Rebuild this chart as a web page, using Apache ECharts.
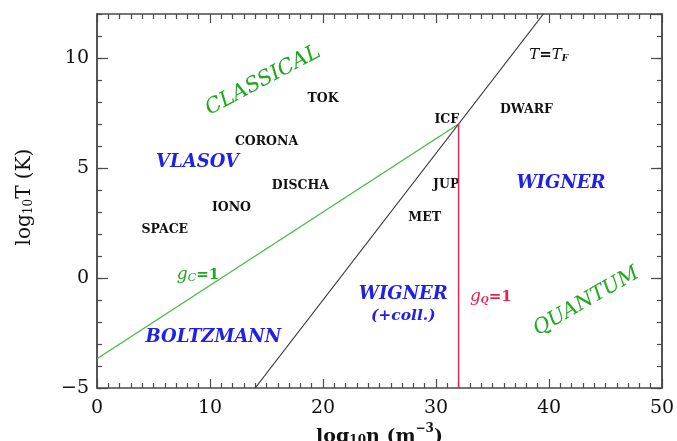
<!DOCTYPE html>
<html>
<head>
<meta charset="utf-8">
<script src="https://cdn.jsdelivr.net/npm/echarts@6/dist/echarts.min.js"></script>
<style>
  html, body { margin: 0; padding: 0; background: #fff; }
  #chart { width: 677px; height: 441px; }
</style>
</head>
<body>
<div id="chart"></div>
<script>
// Plasma regimes in the (density, temperature) plane
const nRange = [0, 50];
const tRange = [-5, 12];

// Boundary curves (log10 n, log10 T)
const gcN = [0, 32];      // classical coupling g_C = 1
const gcT = [-3.67, 7];
const tfN = [14, 39.5];   // T = T_F
const tfT = [-5, 12];
const gqN = [32, 32];     // quantum coupling g_Q = 1
const gqT = [-5, 7];

// Example plasmas
const plasmaNames = ['TOK', 'CORONA', 'DISCHA', 'IONO', 'SPACE', 'ICF', 'DWARF', 'JUP', 'MET'];
const plasmaN = [20.0, 15.0, 18.0, 11.9, 6.0, 30.95, 38.0, 30.9, 29.0];
const plasmaT = [8.17, 6.18, 4.18, 3.2, 2.19, 7.2, 7.66, 4.26, 2.74];

// Regime names
const regimeNames = ['VLASOV', 'BOLTZMANN', 'WIGNER', 'WIGNER', '(+coll.)'];
const regimeN = [8.9, 10.3, 41.06, 27.1, 27.1];
const regimeT = [5.24, -2.69, 4.29, -0.72, -1.72];

const bigNames = ['CLASSICAL', 'QUANTUM'];
const bigN = [14.7, 43.3];
const bigT = [8.98, -1.06];

// Curve labels
const curveNames = ['{gi|g}{sub|C}{g|=1}', '{ti|T}{t|=}{ti|T}{tsub|F}', '{ri|g}{rsub|Q}{r|=1}'];
const curveN = [8.94, 39.97, 34.85];
const curveT = [0.14, 10.15, -0.85];

const GREEN_LINE = '#4cb84c';
const GREEN_TEXT = '#1ea81e';
const BLUE = '#2020e6';
const RED = '#ee1f4f';
const AXIS = '#4a4a4a';
const SERIF = 'DejaVu Serif';

const zip = (a, b) => a.map((v, i) => [v, b[i]]);

const chart = echarts.init(document.getElementById('chart'), null, { renderer: 'canvas' });

function xAx(pos, labels) {
  return {
    type: 'value', position: pos, min: nRange[0], max: nRange[1], interval: 10,
    axisLine: { show: true, onZero: false, lineStyle: { color: AXIS, width: 1.5 } },
    axisTick: { show: true, inside: true, length: 9, lineStyle: { color: AXIS, width: 1.2 } },
    minorTick: { show: true, splitNumber: 10, length: 5, lineStyle: { color: AXIS, width: 1.2 } },
    splitLine: { show: false },
    axisLabel: { show: labels, margin: 11, color: '#111', fontFamily: SERIF, fontSize: 19 },
    name: labels ? '{n|log}{s|10}{n|n (m}{p|\u22123}{n|)}' : '',
    nameLocation: 'middle', nameGap: 31,
    nameTextStyle: {
      rich: {
        n: { fontFamily: SERIF, fontSize: 19, color: '#111', fontWeight: 'bold', verticalAlign: 'bottom', lineHeight: 24 },
        s: { fontFamily: SERIF, fontSize: 12, color: '#111', fontWeight: 'bold', verticalAlign: 'bottom', lineHeight: 12 },
        p: { fontFamily: SERIF, fontSize: 12, color: '#111', fontWeight: 'bold', verticalAlign: 'top', lineHeight: 12 }
      }
    }
  };
}

function yAx(pos, major, labels) {
  return {
    type: 'value', position: pos, min: tRange[0], max: tRange[1], interval: major ? 5 : 1,
    axisLine: { show: true, onZero: false, lineStyle: { color: AXIS, width: 1.5 } },
    axisTick: { show: true, inside: true, length: major ? 11 : 5, lineStyle: { color: AXIS, width: 1.2 } },
    splitLine: { show: false },
    axisLabel: {
      show: labels, margin: 8, color: '#111', fontFamily: SERIF, fontSize: 19,
      showMaxLabel: false,
      formatter: v => (v % 5 === 0 ? (v < 0 ? '\u2212' + Math.abs(v) : String(v)) : '')
    },
    name: labels ? '{n|log}{s|10}{n|T (K)}' : '',
    nameLocation: 'middle', nameGap: 62, nameRotate: 90,
    nameTextStyle: {
      padding: [0, 0, 0, 8],
      rich: {
        n: { fontFamily: SERIF, fontSize: 20, color: '#111', verticalAlign: 'bottom', lineHeight: 24 },
        s: { fontFamily: SERIF, fontSize: 12, color: '#111', verticalAlign: 'bottom', lineHeight: 12 }
      }
    }
  };
}

function textSeries(names, ns, ts, labelOpt) {
  return {
    type: 'scatter', xAxisIndex: 0, yAxisIndex: 0, symbolSize: 0, silent: true, clip: false,
    itemStyle: { opacity: 1 },
    data: names.map((nm, i) => ({ name: nm, value: [ns[i], ts[i]] })),
    label: Object.assign({ show: true, position: 'inside', align: 'center', verticalAlign: 'middle', formatter: p => p.name }, labelOpt)
  };
}

const richCurve = {
  gi: { fontFamily: SERIF, fontStyle: 'italic', fontSize: 17, color: GREEN_TEXT },
  sub: { fontFamily: SERIF, fontStyle: 'italic', fontSize: 11, color: GREEN_TEXT, padding: [7, 0, 0, 0] },
  g: { fontFamily: SERIF, fontWeight: 'bold', fontSize: 15, color: GREEN_TEXT },
  ti: { fontFamily: SERIF, fontStyle: 'italic', fontSize: 15, color: '#111' },
  t: { fontFamily: SERIF, fontWeight: 'bold', fontSize: 15, color: '#111' },
  tsub: { fontFamily: SERIF, fontStyle: 'italic', fontWeight: 'bold', fontSize: 9, color: '#111', padding: [8, 0, 0, 0] },
  ri: { fontFamily: SERIF, fontStyle: 'italic', fontSize: 17, color: RED },
  rsub: { fontFamily: SERIF, fontStyle: 'italic', fontWeight: 'bold', fontSize: 9, color: RED, padding: [8, 0, 0, 0] },
  r: { fontFamily: SERIF, fontWeight: 'bold', fontSize: 15, color: RED }
};

const option = {
  animation: false,
  backgroundColor: '#fff',
  grid: { left: 97, right: 15, top: 14, bottom: 53, containLabel: false, outerBoundsMode: 'none' },
  xAxis: [xAx('bottom', true), xAx('top', false)],
  yAxis: [yAx('left', true, true), yAx('left', false, false), yAx('right', true, false), yAx('right', false, false)],
  series: [
    { type: 'line', data: zip(gcN, gcT), showSymbol: false, silent: true, lineStyle: { color: GREEN_LINE, width: 1.4 } },
    { type: 'line', data: zip(tfN, tfT), showSymbol: false, silent: true, lineStyle: { color: '#333', width: 1.2 } },
    { type: 'line', data: zip(gqN, gqT), showSymbol: false, silent: true, lineStyle: { color: RED, width: 1.4 } },
    textSeries(plasmaNames, plasmaN, plasmaT, { fontFamily: SERIF, fontWeight: 'bold', fontSize: 12.5, color: '#111' }),
    textSeries(regimeNames, regimeN, regimeT, { fontFamily: SERIF, fontStyle: 'italic', fontWeight: 'bold', fontSize: 18, color: BLUE }),
    textSeries(bigNames, bigN, bigT, { fontFamily: SERIF, fontStyle: 'italic', fontSize: 21, color: GREEN_TEXT, rotate: 28 }),
    textSeries(curveNames, curveN, curveT, { rich: richCurve })
  ]
};

// the collisional note under the lower WIGNER is set smaller
option.series[4].data[4].label = { fontSize: 15.5 };
// QUANTUM climbs a little more steeply than CLASSICAL
option.series[5].data[1].label = { rotate: 30, fontSize: 20.5 };

chart.setOption(option);
</script>
</body>
</html>
